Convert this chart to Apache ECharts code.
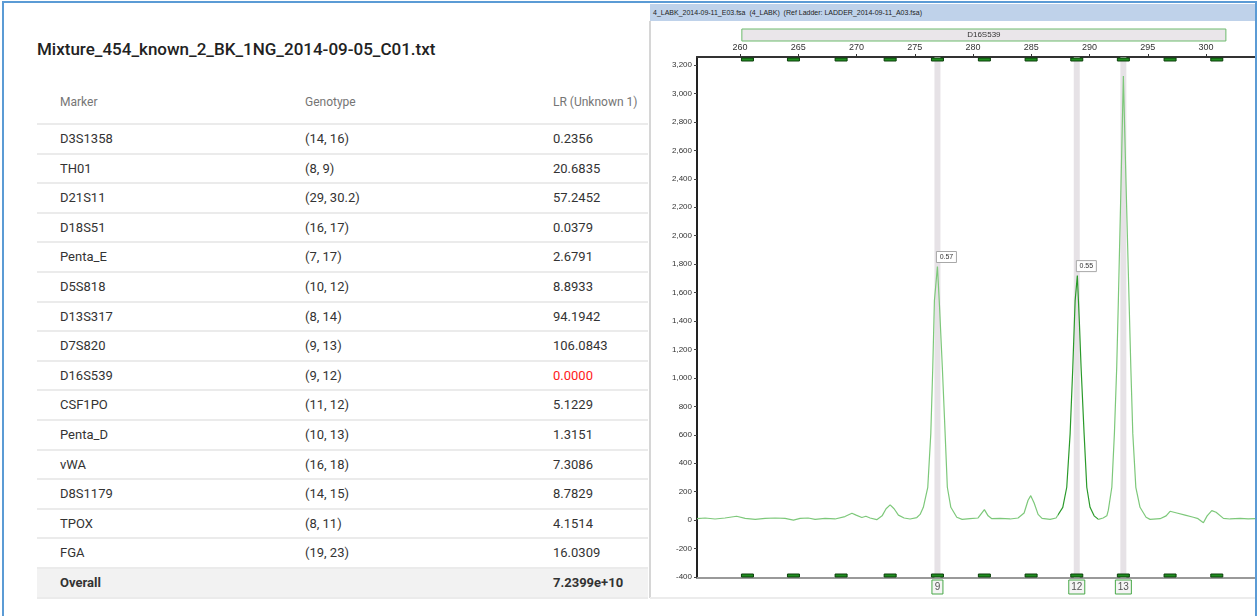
<!DOCTYPE html>
<html>
<head>
<meta charset="utf-8">
<title>D16S539 electropherogram</title>
<script src="https://cdn.jsdelivr.net/npm/echarts@6/dist/echarts.min.js"></script>
<style>
  body { margin: 0; width: 1260px; height: 616px; overflow: hidden; position: relative; background: #fff;
         font-family: Roboto, "Liberation Sans", sans-serif; }
  #frame { position: absolute; left: 2px; top: 1px; width: 1251px; height: 700px;
           border: 2px solid #5b9bd5; border-bottom: none; }
  #title { position: absolute; left: 37px; top: 38px; font-size: 17px; font-weight: 500; color: #222; line-height: 22px; }
  .row { position: absolute; left: 37px; width: 611px; height: 29.6px; box-sizing: border-box;
         border-bottom: 2px solid #ebebeb; font-size: 13px; color: #333; }
  .row span { position: absolute; top: 0; line-height: 28px; }
  .c0 { left: 23px; } .c1 { left: 268px; } .c2 { left: 516px; }
  #thead { top: 80px; height: 45px; font-size: 12px; color: #757575; }
  #thead span { line-height: 44px; }
  .overall { background: #f2f2f2; font-weight: bold; }
  #sep { position: absolute; left: 649px; top: 21px; width: 2px; height: 577px; background: #d6d6d6; }
  #foot { position: absolute; left: 650px; top: 597px; width: 605px; height: 2px; background: #ececec; }
  #hdr { position: absolute; left: 650px; top: 4px; width: 605px; height: 17px; background: #bfd2ea;
         font: 7px "Liberation Sans", Arial, sans-serif; color: #222; line-height: 17px; white-space: pre; }
  #hdr span { padding-left: 3px; }
  #main { position: absolute; left: 650px; top: 21px; width: 605px; height: 577px; }
</style>
</head>
<body>
<div id="frame"></div>
<div id="title">Mixture_454_known_2_BK_1NG_2014-09-05_C01.txt</div>
<div id="table"></div>
<div id="sep"></div>
<div id="foot"></div>
<div id="hdr"><span>4_LABK_2014-09-11_E03.fsa  (4_LABK)  (Ref Ladder: LADDER_2014-09-11_A03.fsa)</span></div>
<div id="main"></div>
<script type="text/javascript">
    // table on the left
    var columns = ['Marker', 'Genotype', 'LR (Unknown 1)'];
    var markers = ['D3S1358', 'TH01', 'D21S11', 'D18S51', 'Penta_E', 'D5S818', 'D13S317', 'D7S820',
        'D16S539', 'CSF1PO', 'Penta_D', 'vWA', 'D8S1179', 'TPOX', 'FGA'];
    var genotypes = ['(14, 16)', '(8, 9)', '(29, 30.2)', '(16, 17)', '(7, 17)', '(10, 12)', '(8, 14)', '(9, 13)',
        '(9, 12)', '(11, 12)', '(10, 13)', '(16, 18)', '(14, 15)', '(8, 11)', '(19, 23)'];
    var lrValues = ['0.2356', '20.6835', '57.2452', '0.0379', '2.6791', '8.8933', '94.1942', '106.0843',
        '0.0000', '5.1229', '1.3151', '7.3086', '8.7829', '4.1514', '16.0309'];
    var overallLR = '7.2399e+10';

    // electropherogram, marker D16S539 (size in bp, height in RFU)
    var markerName = 'D16S539';
    var binRange = [260.15, 301.7];
    var traceBp = [256.3, 257.0, 257.85, 258.7, 259.7, 260.43, 261.3, 262.15, 263.0, 263.86, 264.58, 265.15,
        265.84, 266.44, 267.3, 268.15, 269.0, 269.6, 269.96, 270.45, 270.8, 271.16, 271.73, 272.19, 272.53,
        272.88, 273.22, 273.59, 274.08, 274.59, 275.17, 275.45, 275.73, 276.11, 276.37, 276.54, 276.68, 276.94,
        277.12, 277.36, 277.6, 277.79, 278.09, 278.6, 279.06, 279.74, 280.43, 280.6, 280.97, 281.29, 281.61,
        282.32, 283.18, 283.86, 284.38, 284.72, 284.95, 285.24, 285.58, 285.92, 286.61, 287.12, 287.7, 288.04,
        288.33, 288.56, 288.76, 288.95, 289.12, 289.27, 289.53, 289.76, 290.04, 290.39, 290.76, 291.16, 291.48,
        291.61, 291.91, 292.13, 292.33, 292.47, 292.7, 292.9, 293.13, 293.39, 293.54, 293.71, 293.97, 294.33,
        294.85, 295.19, 296.05, 296.57, 296.91, 297.49, 298.2, 298.91, 299.31, 299.77, 300.09, 300.49, 300.86,
        301.49, 302.06, 302.92, 303.61, 304.2];
    var traceRfu = [10, 15, 8, 15, 27, 12, 5, 12, 15, 12, 0, 12,
        15, 5, 12, 8, 25, 48, 35, 18, 27, 15, 3, 30, 80,
        107, 80, 35, 15, 8, 18, 40, 90, 231, 608, 1075, 1543, 1783,
        1500, 1075, 608, 231, 90, 20, 5, 10, 15, 25, 74, 30, 10,
        12, 8, 15, 50, 140, 172, 120, 40, 12, 5, 15, 90, 231,
        608, 1075, 1543, 1719, 1400, 1075, 608, 231, 90, 30, 5, 15, 30,
        70, 231, 608, 1075, 1543, 2364, 3122, 2364, 1543, 1075, 608, 231, 90,
        20, 5, 10, 30, 62, 50, 35, 20, 10, -18, 30, 67, 55,
        12, 8, 12, 8, 10];
    var ladderBp = [260.63, 264.58, 268.67, 272.88, 276.94, 280.97, 284.98, 288.9, 292.9, 296.91, 300.92];
    var calledAlleles = ['9', '12', '13'];
    var calledBp = [276.94, 288.9, 292.9];
    var peakBp = [276.94, 288.95];
    var peakRfu = [1783, 1719];
    var peakRatio = ['0.57', '0.55'];
    var xTicks = [260, 265, 270, 275, 280, 285, 290, 295, 300];
    var yTicks = [-400, -200, 0, 200, 400, 600, 800, 1000, 1200, 1400, 1600, 1800, 2000, 2200, 2400, 2600, 2800, 3000, 3200];

    // build the table
    var table = document.getElementById('table');
    function addRow(cells, top, cls) {
        var row = document.createElement('div');
        row.className = 'row' + (cls ? ' ' + cls : '');
        if (top !== null) row.style.top = top + 'px';
        else row.id = 'thead';
        for (var c = 0; c < cells.length; c++) {
            var s = document.createElement('span');
            s.className = 'c' + c;
            s.textContent = cells[c].text;
            if (cells[c].color) s.style.color = cells[c].color;
            row.appendChild(s);
        }
        table.appendChild(row);
    }
    addRow(columns.map(function (t) { return {text: t}; }), null);
    for (var i = 0; i < markers.length; i++) {
        addRow([{text: markers[i]}, {text: genotypes[i]},
            {text: lrValues[i], color: parseFloat(lrValues[i]) === 0 ? '#ff1a1a' : null}], 125 + i * 29.6);
    }
    addRow([{text: 'Overall'}, {text: ''}, {text: overallLR}], 125 + markers.length * 29.6, 'overall');

    // chart
    var myChart = echarts.init(document.getElementById('main'));
    var smallFont = '"Liberation Sans", Arial, sans-serif';

    var option = {
        animation: false,
        grid: {left: 47, right: 0, top: 36, bottom: 20},
        xAxis: [
            {
                type: 'value', position: 'top', min: 256.3, max: 304.2,
                axisLine: {onZero: false, lineStyle: {color: '#333', width: 2}},
                axisTick: {show: true, length: 3, customValues: xTicks, lineStyle: {color: '#333'}},
                axisLabel: {customValues: xTicks, margin: 5, fontSize: 9, color: '#333', fontFamily: smallFont},
                splitLine: {show: false}
            },
            {
                type: 'value', position: 'bottom', min: 256.3, max: 304.2,
                axisLine: {onZero: false, lineStyle: {color: '#999', width: 2}},
                axisTick: {show: false}, axisLabel: {show: false}, splitLine: {show: false}
            }
        ],
        yAxis: {
            type: 'value', min: -407, max: 3256,
            axisLine: {show: true, onZero: false, lineStyle: {color: '#222', width: 2}},
            axisTick: {show: true, length: 3, customValues: yTicks, lineStyle: {color: '#444'}},
            axisLabel: {
                customValues: yTicks, margin: 5, fontSize: 8, color: '#333', fontFamily: smallFont,
                formatter: function (v) { return v.toLocaleString('en-US'); }
            },
            splitLine: {show: false}
        },
        visualMap: {
            show: false, type: 'piecewise', dimension: 0, seriesIndex: 1,
            pieces: [
                {lt: 287.3, color: '#7dc87a'},
                {gte: 287.3, lt: 290.7, color: '#2a9a2a'},
                {gte: 290.7, color: '#7dc87a'}
            ]
        },
        series: [
            {
                // called allele bands and allele boxes under the plot
                type: 'custom', clip: false, z: 1,
                data: calledBp.map(function (v, i) { return [v, i]; }),
                renderItem: function (params, api) {
                    var cs = params.coordSys;
                    var x = api.coord([api.value(0), 0])[0];
                    var txt = calledAlleles[params.dataIndex];
                    var w = txt.length > 1 ? 16 : 11;
                    return {type: 'group', children: [
                        {type: 'rect', shape: {x: x - 3, y: cs.y, width: 6, height: cs.height},
                            style: {fill: '#e6e2e6'}},
                        {type: 'rect', shape: {x: x - w / 2, y: cs.y + cs.height + 2, width: w, height: 14},
                            style: {fill: '#f4f4f4', stroke: '#48a848', lineWidth: 1}},
                        {type: 'text', style: {text: txt, x: x, y: cs.y + cs.height + 9.5, align: 'center',
                            verticalAlign: 'middle', font: '10px ' + smallFont, fill: '#555'}}
                    ]};
                }
            },
            {
                name: markerName, type: 'line', z: 2, showSymbol: false, symbol: 'none',
                lineStyle: {width: 1.2},
                data: traceBp.map(function (v, i) { return [v, traceRfu[i]]; })
            },
            {
                // ladder bins on top and bottom edges
                type: 'custom', clip: false, z: 3,
                data: ladderBp.map(function (v, i) { return [v, i]; }),
                renderItem: function (params, api) {
                    var cs = params.coordSys;
                    var x = api.coord([api.value(0), 0])[0];
                    var st = {fill: '#1f8f1f', stroke: '#0c3f0c', lineWidth: 1};
                    return {type: 'group', children: [
                        {type: 'rect', shape: {x: x - 6, y: cs.y + 1, width: 12, height: 3}, style: st},
                        {type: 'rect', shape: {x: x - 6, y: cs.y + cs.height - 4, width: 12, height: 3}, style: st}
                    ]};
                }
            },
            {
                // peak height ratio labels
                type: 'custom', clip: false, z: 4,
                data: peakBp.map(function (v, i) { return [v, peakRfu[i]]; }),
                renderItem: function (params, api) {
                    var p = api.coord([api.value(0), api.value(1)]);
                    return {type: 'group', children: [
                        {type: 'rect', shape: {x: p[0] - 1, y: p[1] - 15, width: 20, height: 11},
                            style: {fill: '#fff', stroke: '#a8a8a8', lineWidth: 1}},
                        {type: 'text', style: {text: peakRatio[params.dataIndex], x: p[0] + 9, y: p[1] - 9.5,
                            align: 'center', verticalAlign: 'middle', font: '7px ' + smallFont, fill: '#333'}}
                    ]};
                }
            },
            {
                // marker range bar above the size axis
                type: 'custom', clip: false, z: 4,
                data: [binRange],
                renderItem: function (params, api) {
                    var cs = params.coordSys;
                    var a = api.coord([api.value(0), 0])[0];
                    var b = api.coord([api.value(1), 0])[0];
                    return {type: 'group', children: [
                        {type: 'rect', shape: {x: a, y: cs.y - 28, width: b - a, height: 12},
                            style: {fill: '#eae6ea', stroke: '#6cbb6c', lineWidth: 1}},
                        {type: 'text', style: {text: markerName, x: (a + b) / 2, y: cs.y - 22, align: 'center',
                            verticalAlign: 'middle', font: '8px ' + smallFont, fill: '#333'}}
                    ]};
                }
            }
        ]
    };

    myChart.setOption(option);
</script>
</body>
</html>
